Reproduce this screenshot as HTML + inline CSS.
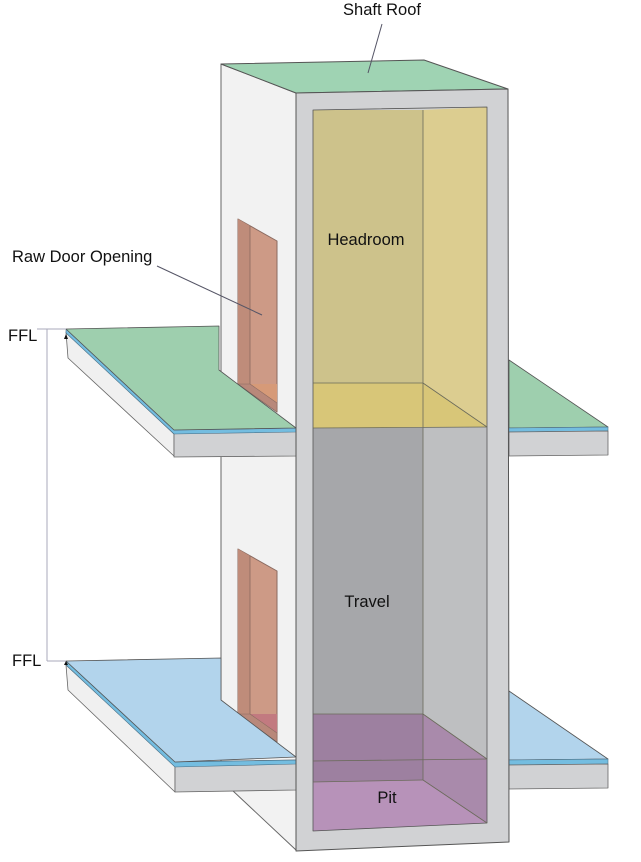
<!DOCTYPE html>
<html><head><meta charset="utf-8"><style>
html,body{margin:0;padding:0;background:#fff;}
svg{display:block;}
text{font-family:"Liberation Sans",sans-serif;font-size:16.5px;fill:#111;}
</style></head><body>
<svg width="641" height="862" viewBox="0 0 641 862" xmlns="http://www.w3.org/2000/svg" stroke-linejoin="round">
<polygon points="221,64 296,93 296,850 232,790 221,790" fill="#f2f2f2" stroke="#666" stroke-width="1"/>
<polygon points="238,219 277,241 277,412 238,384" fill="#cd9a86" stroke="#8a6a60" stroke-width="1"/>
<polygon points="238,219 250,226 250,384 238,384" fill="#bf8c7a"/>
<line x1="250" y1="226" x2="250" y2="384" stroke="#8a6a60" stroke-width="0.8"/>
<polygon points="250,384 277,384 277,403" fill="#d69a78"/>
<polygon points="238,384 250,384 277,403 277,412" fill="#b8887a" stroke="#8a6a60" stroke-width="0.6"/>
<polygon points="238,549 277,571 277,742 238,714" fill="#cd9a86" stroke="#8a6a60" stroke-width="1"/>
<polygon points="238,549 250,556 250,714 238,714" fill="#bf8c7a"/>
<line x1="250" y1="556" x2="250" y2="714" stroke="#8a6a60" stroke-width="0.8"/>
<polygon points="250,714 277,714 277,733" fill="#c27a80"/>
<polygon points="238,714 250,714 277,733 277,742" fill="#b8887a" stroke="#8a6a60" stroke-width="0.6"/>

<polygon points="66,332 174,434 174,456 68,358" fill="#f0f0f0" stroke="#666" stroke-width="0.8"/>
<polygon points="174,430 296,428 296,456 174,457" fill="#d1d2d4" stroke="#666" stroke-width="0.8"/>
<polygon points="66,329 174,430 296,428 296,432 174,434 66,333" fill="#74bde0" stroke="#4a6f85" stroke-width="0.6"/>
<polygon points="66,329 219,326 219,370 296,428 174,430" fill="#9ecfae" stroke="#555" stroke-width="0.8"/>
<polygon points="66,665 175,766 175,792 68,690" fill="#f0f0f0" stroke="#666" stroke-width="0.8"/>
<polygon points="175,762 296,760 296,790 175,792" fill="#d1d2d4" stroke="#666" stroke-width="0.8"/>
<polygon points="66,661 175,762 296,760 296,764 175,767 66,665" fill="#74bde0" stroke="#4a6f85" stroke-width="0.6"/>
<polygon points="66,661 221,658 221,700 296,757 175,762" fill="#b2d4ec" stroke="#555" stroke-width="0.8"/>
<polygon points="509,360 608,427 509,428" fill="#9ecfae" stroke="#555" stroke-width="0.8"/>
<polygon points="509,428 608,427 608,431 509,432" fill="#74bde0" stroke="#4a6f85" stroke-width="0.6"/>
<polygon points="509,432 608,431 608,455 509,456" fill="#d1d2d4" stroke="#666" stroke-width="0.8"/>
<polygon points="509,691 608,759 509,760" fill="#b2d4ec" stroke="#555" stroke-width="0.8"/>
<polygon points="509,760 608,759 608,764 509,765" fill="#74bde0" stroke="#4a6f85" stroke-width="0.6"/>
<polygon points="509,765 608,764 608,788 509,789" fill="#d1d2d4" stroke="#666" stroke-width="0.8"/>

<polygon points="221,64 424,60 508,89 296,93" fill="#9fd3b3" stroke="#555" stroke-width="1"/>
<polygon points="296,93 508,89 509,842 296,851" fill="#d1d2d4" stroke="#555" stroke-width="1"/>
<polygon points="313,110 423,110 423,383 313,383" fill="#cdc28b"/>
<polygon points="423,110 487,107 487,427 423,383" fill="#dccd90"/>
<polygon points="313,383 423,383 487,427 313,428" fill="#d8c678"/>
<polygon points="313,428 423,428 423,714 313,714" fill="#a6a7aa"/>
<polygon points="423,427 487,427 487,759 423,714" fill="#bebfc1"/>
<polygon points="313,714 423,714 423,780 313,782" fill="#9d80a0"/>
<polygon points="423,714 487,759 487,823 423,780" fill="#a98aab"/>
<polygon points="313,782 423,780 487,823 313,831" fill="#b792b9"/>
<g stroke="#6a6a5a" stroke-width="0.8" fill="none">
<polygon points="313,110 487,107 487,823 313,831" stroke="#555"/>
<line x1="423" y1="110" x2="423" y2="780"/>
<line x1="313" y1="383" x2="423" y2="383"/>
<line x1="423" y1="383" x2="487" y2="427"/>
<line x1="313" y1="428" x2="487" y2="427"/>
<line x1="313" y1="714" x2="423" y2="714"/>
<line x1="423" y1="714" x2="487" y2="759"/>
<line x1="313" y1="761" x2="487" y2="759"/>
<line x1="313" y1="782" x2="423" y2="780"/>
<line x1="423" y1="780" x2="487" y2="823"/>
</g>

<text x="382" y="15" text-anchor="middle">Shaft Roof</text>
<line x1="382" y1="24" x2="368" y2="73" stroke="#556" stroke-width="1"/>
<text x="12" y="262">Raw Door Opening</text>
<line x1="157" y1="266" x2="262" y2="315" stroke="#556" stroke-width="1"/>
<text x="366" y="245" text-anchor="middle">Headroom</text>
<text x="367" y="607" text-anchor="middle">Travel</text>
<text x="387" y="803" text-anchor="middle">Pit</text>
<text x="8" y="341">FFL</text>
<text x="12" y="666">FFL</text>
<g stroke="#aab" stroke-width="1" fill="none">
<line x1="37" y1="329" x2="66" y2="329"/>
<line x1="47" y1="329" x2="47" y2="661"/>
<line x1="47" y1="661" x2="66" y2="661"/>
</g>
<polygon points="66,334 64,339 68,339" fill="#111"/>
<polygon points="66,661 64,665 68,665" fill="#111"/>
</svg>
</body></html>
